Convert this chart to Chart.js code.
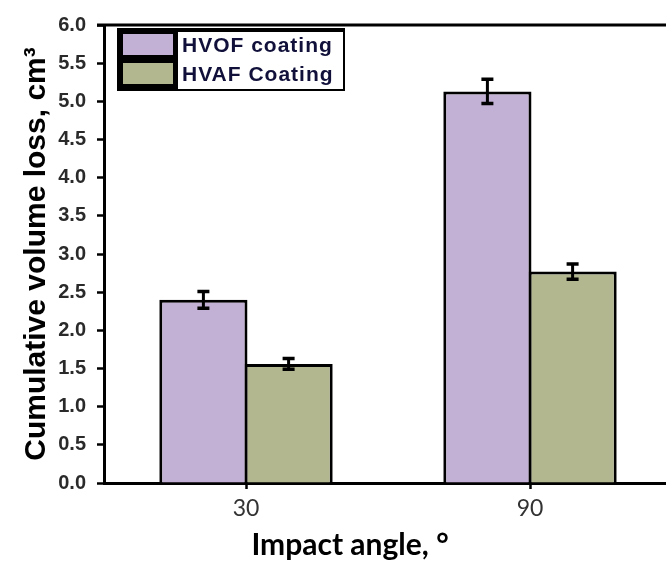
<!DOCTYPE html>
<html>
<head>
<meta charset="utf-8">
<script src="https://cdn.jsdelivr.net/npm/chart.js@4.4.1/dist/chart.umd.min.js"></script>
<style>
    html, body { margin: 0; padding: 0; background: #fff; overflow: hidden; }
    #wrap { position: relative; width: 672px; height: 562px; }
</style>
</head>
<body>
<div id="wrap"><canvas id="chart"></canvas></div>
<script>
// --- data ---
const angles = ['30', '90'];
const seriesNames = ['HVOF coating', 'HVAF Coating'];
const hvofLoss = [2.40, 5.13];
const hvofErr = [0.11, 0.16];
const hvafLoss = [1.56, 2.77];
const hvafErr = [0.07, 0.10];
const yTicks = [0, 0.5, 1, 1.5, 2, 2.5, 3, 3.5, 4, 4.5, 5, 5.5, 6];

const purple = '#c3b1d5';
const olive = '#b2b78f';
const errors = [hvofErr, hvafErr];

// error bars on top of each bar
const errorBars = {
    id: 'errorBars',
    afterDatasetsDraw(chart) {
        const ctx = chart.ctx;
        const y = chart.scales.y;
        chart.data.datasets.forEach((ds, i) => {
            const meta = chart.getDatasetMeta(i);
            meta.data.forEach((bar, j) => {
                const v = ds.data[j];
                const e = errors[i][j];
                const yTop = y.getPixelForValue(v + e);
                const yBot = y.getPixelForValue(v - e);
                ctx.save();
                ctx.strokeStyle = '#000';
                ctx.lineWidth = 3;
                ctx.beginPath();
                ctx.moveTo(bar.x, yTop);
                ctx.lineTo(bar.x, yBot);
                ctx.stroke();
                ctx.lineWidth = 3.5;
                ctx.beginPath();
                ctx.moveTo(bar.x - 6, yTop);
                ctx.lineTo(bar.x + 6, yTop);
                ctx.moveTo(bar.x - 6, yBot);
                ctx.lineTo(bar.x + 6, yBot);
                ctx.stroke();
                ctx.restore();
            });
        });
    }
};

// top frame line, boxed legend and x title
const decorations = {
    id: 'decorations',
    afterDraw(chart) {
        const ctx = chart.ctx;
        const a = chart.chartArea;
        ctx.save();
        ctx.strokeStyle = '#000';
        ctx.lineWidth = 3;
        ctx.beginPath();
        ctx.moveTo(a.left - 7, a.top);
        ctx.lineTo(chart.width, a.top);
        ctx.stroke();

        // legend
        const lx = a.left + 13, ly = a.top + 3;
        ctx.fillStyle = '#000';
        ctx.fillRect(lx, ly, 228, 63);
        ctx.fillStyle = '#fff';
        ctx.fillRect(lx + 61, ly + 4, 165, 57);
        ctx.font = 'bold 21px "Liberation Sans", Arial, sans-serif';
        ctx.letterSpacing = '1px';
        ctx.textBaseline = 'alphabetic';
        chart.data.datasets.forEach((ds, i) => {
            const sy = ly + 6 + i * 29;
            ctx.fillStyle = ds.backgroundColor;
            ctx.fillRect(lx + 6, sy, 50, 21);
            ctx.fillStyle = '#10103a';
            ctx.fillText(ds.label, lx + 65, sy + 18);
        });
        ctx.letterSpacing = '0px';

        // x axis title
        ctx.fillStyle = '#000';
        ctx.font = 'bold 30px Lato, "Open Sans", sans-serif';
        ctx.textAlign = 'center';
        ctx.fillText('Impact angle, °', 350, 555);
        ctx.restore();
    }
};

new Chart(document.getElementById('chart'), {
    type: 'bar',
    data: {
        labels: angles,
        datasets: [
            {
                label: seriesNames[0],
                data: hvofLoss,
                backgroundColor: purple,
                borderColor: '#000',
                borderWidth: 3,
                borderSkipped: 'start',
                categoryPercentage: 0.6,
                barPercentage: 1.035
            },
            {
                label: seriesNames[1],
                data: hvafLoss,
                backgroundColor: olive,
                borderColor: '#000',
                borderWidth: 3,
                borderSkipped: 'start',
                categoryPercentage: 0.6,
                barPercentage: 1.035
            }
        ]
    },
    options: {
        responsive: true,
        maintainAspectRatio: false,
        animation: false,
        layout: { padding: { top: 25, left: 0, right: 0, bottom: 0 } },
        plugins: {
            legend: { display: false },
            tooltip: { enabled: false }
        },
        scales: {
            x: {
                offset: true,
                grid: {
                    offset: false,
                    drawOnChartArea: false,
                    drawTicks: true,
                    tickLength: 6,
                    tickWidth: 2.5,
                    tickColor: '#000'
                },
                border: { display: true, color: '#000', width: 3 },
                ticks: {
                    color: '#333',
                    padding: 6,
                    font: { family: 'Lato, "Open Sans", sans-serif', size: 23 }
                },
                afterFit: (s) => { s.height = 79; }
            },
            y: {
                min: 0,
                max: 6,
                afterBuildTicks: (s) => { s.ticks = yTicks.map(v => ({ value: v })); },
                grid: {
                    drawOnChartArea: false,
                    drawTicks: true,
                    tickLength: 7,
                    tickWidth: 2.5,
                    tickColor: '#000'
                },
                border: { display: true, color: '#000', width: 3 },
                ticks: {
                    color: '#2a2a2a',
                    padding: 11,
                    font: { family: '"Liberation Sans", Arial, sans-serif', size: 20, weight: 'bold' },
                    callback: (v) => Number(v).toFixed(1)
                },
                title: {
                    display: true,
                    text: 'Cumulative volume loss, cm³',
                    color: '#000',
                    padding: { top: 19, bottom: 0 },
                    font: { family: '"Liberation Sans", Arial, sans-serif', size: 30, weight: 'bold' }
                },
                afterFit: (s) => { s.width = 104; }
            }
        }
    },
    plugins: [errorBars, decorations]
});
</script>
</body>
</html>
